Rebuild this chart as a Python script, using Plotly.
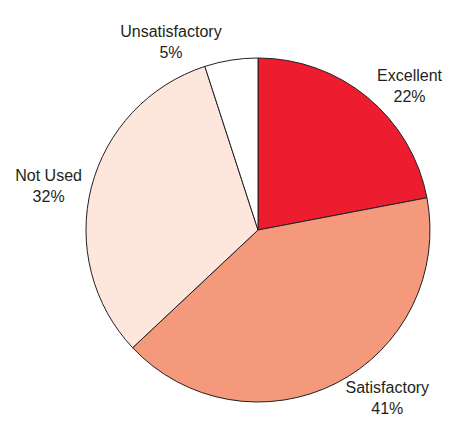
import plotly.graph_objects as go

# Survey ratings and their shares (percent)
categories = ["Excellent", "Satisfactory", "Not Used", "Unsatisfactory"]
shares = [22, 41, 32, 5]
slice_colors = ["#ED1C2E", "#F4997B", "#FDE6DC", "#FFFFFF"]

W, H = 451, 439
cx, cy, r = 258, 230, 172

fig = go.Figure(
    go.Pie(
        labels=categories,
        values=shares,
        sort=False,
        direction="clockwise",
        rotation=0,
        marker=dict(colors=slice_colors, line=dict(color="#231F20", width=1)),
        textposition="outside",
        texttemplate="%{label}<br>%{value}%",
        textfont=dict(family="Liberation Sans Narrow, Arial Narrow, Liberation Sans, Arial",
                      size=16, color="#231F20"),
        automargin=False,
        showlegend=False,
        hoverinfo="label+percent",
        domain=dict(x=[(cx - r) / W, (cx + r) / W],
                    y=[1 - (cy + r) / H, 1 - (cy - r) / H]),
    )
)

fig.update_layout(
    width=W,
    height=H,
    margin=dict(l=0, r=0, t=0, b=0),
    paper_bgcolor="white",
    plot_bgcolor="white",
)

fig.write_html("out.html")
